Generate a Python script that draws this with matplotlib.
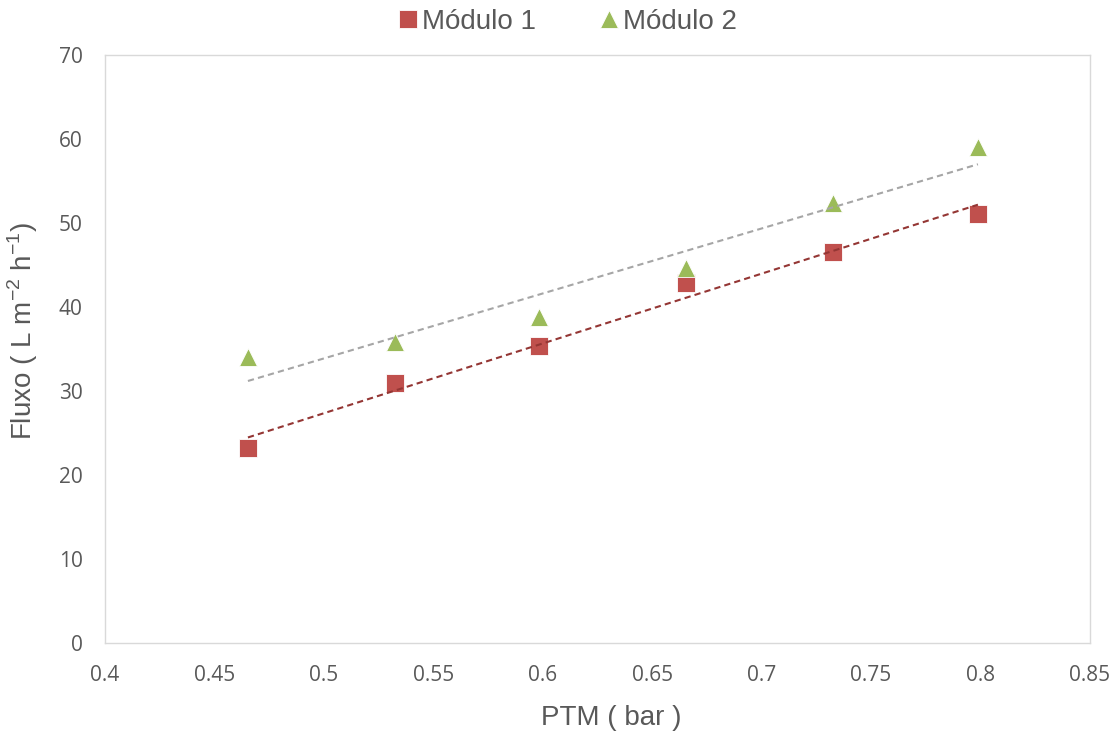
import matplotlib.pyplot as plt
import numpy as np

plt.rcParams["font.family"] = ["Liberation Sans", "DejaVu Sans"]

# data
ptm = [0.4653, 0.5325, 0.5983, 0.6654, 0.7326, 0.7988]
modulo1 = [23.2, 30.9, 35.4, 42.8, 46.6, 51.1]
modulo2 = [34.0, 35.8, 38.8, 44.6, 52.4, 59.0]

red = "#C0504D"
green = "#9BBB59"
grey_text = "#595959"

fig = plt.figure(figsize=(11.2, 7.37), dpi=100)
ax = fig.add_axes([105 / 1120, 1 - 643 / 737, 985 / 1120, 588 / 737])

ax.plot(ptm, modulo1, ls="none", marker="s", ms=13, color=red,
        mec="white", mew=0.6, label="Módulo 1", zorder=3)
ax.plot(ptm, modulo2, ls="none", marker="^", ms=13, color=green,
        mec="white", mew=0.6, label="Módulo 2", zorder=3)

# linear trendlines
x = np.array(ptm)
for ys, col in [(modulo1, "#943634"), (modulo2, "#A6A6A6")]:
    k, b = np.polyfit(x, ys, 1)
    ax.plot([x[0], x[-1]], [k * x[0] + b, k * x[-1] + b], ls=(0, (3, 2)),
            lw=1.5, color=col, zorder=4)

ax.set_xlim(0.4, 0.85)
ax.set_ylim(0, 70)
ax.set_xticks(np.arange(0.4, 0.851, 0.05))
ax.set_xticklabels(["0.4", "0.45", "0.5", "0.55", "0.6", "0.65", "0.7",
                    "0.75", "0.8", "0.85"])
ax.set_yticks(range(0, 71, 10))
ax.tick_params(length=0, labelsize=15, colors=grey_text, pad=16)
for lab in ax.get_xticklabels() + ax.get_yticklabels():
    lab.set_family(["Open Sans", "DejaVu Sans"])

for s in ax.spines.values():
    s.set_color("#D9D9D9")
    s.set_linewidth(1)

ax.set_xlabel("PTM ( bar )", fontsize=20, color=grey_text)
ax.set_ylabel(r"Fluxo ( L m$^{\mathregular{-2}}$ h$^{\mathregular{-1}}$)",
              fontsize=20, color=grey_text)
ax.xaxis.set_label_coords(611 / 1120, 1 - 705 / 737, transform=fig.transFigure)
ax.yaxis.set_label_coords(40 / 1120, 1 - 331 / 737, transform=fig.transFigure)

leg = fig.legend(handles=ax.get_lines()[:2], loc="center",
                 bbox_to_anchor=(567 / 1120, 1 - 22 / 737), ncol=2,
                 frameon=False, fontsize=20, handletextpad=0.1,
                 columnspacing=2.25, handlelength=0.8, borderaxespad=0)
for t in leg.get_texts():
    t.set_color(grey_text)

fig.savefig("out.png", dpi=100)
